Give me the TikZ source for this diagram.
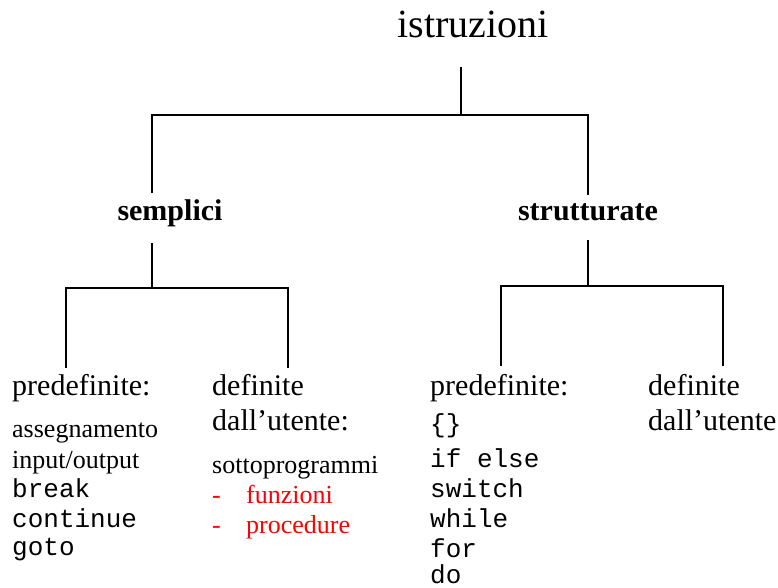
\documentclass[tikz,border=0pt]{standalone}
\usepackage{fontspec}
\setmainfont{Liberation Serif}
\setmonofont{Liberation Mono}
\begin{document}
\begin{tikzpicture}[x=1pt,y=-1pt,
  txt/.style={inner sep=0pt,anchor=base west},
  head/.style={txt,font=\fontsize{30}{36}\selectfont},
  item/.style={txt,font=\fontsize{26}{30}\selectfont},
  code/.style={txt,font=\fontsize{26}{30}\selectfont\ttfamily},
  redit/.style={item,text=red},
  branch/.style={line width=2.6pt}]
\useasboundingbox[fill=white] (0,0) rectangle (778,588);
% top
\node[txt,anchor=base,font=\fontsize{40}{48}\selectfont] (istr) at (473,38) {istruzioni};
\node[txt,anchor=base,font=\fontsize{30}{36}\selectfont\bfseries] (sem) at (170,220) {semplici};
\node[txt,anchor=base,font=\fontsize{30}{36}\selectfont\bfseries] (str) at (588,220) {strutturate};
% left column
\node[head] (sp) at (12,395) {predefinite:};
\node[item] (s1) at (12,437) {assegnamento};
\node[item] (s2) at (12,468) {input/output};
\node[code] (s3) at (12,497) {break};
\node[code] (s4) at (12,527) {continue};
\node[code] (s5) at (12,555) {goto};
\node[head] (sd) at (212,395) {definite};
\node[head] (sd2) at (212,430) {dall’utente:};
\node[item] (u1) at (212,473) {sottoprogrammi};
\node[redit] (d1) at (212,503) {-};
\node[redit] (u2) at (246,503) {funzioni};
\node[redit] (d2) at (212,533) {-};
\node[redit] (u3) at (246,533) {procedure};
% right column
\node[head] (tp) at (430,395) {predefinite:};
\node[code] (t1) at (430,432) {\{\}};
\node[code] (t2) at (430,467) {if else};
\node[code] (t3) at (430,497) {switch};
\node[code] (t4) at (430,527) {while};
\node[code] (t5) at (430,557) {for};
\node[code] (t6) at (430,583) {do};
\node[head] (td) at (648,395) {definite};
\node[head] (td2) at (648,430) {dall’utente};
% junction coordinates
\coordinate (r0) at (461,67);
\coordinate (r1) at (461,115);
\coordinate (a0) at (152,193);
\coordinate (a1) at (152,115);
\coordinate (b1) at (588,115);
\coordinate (b0) at (588,195);
\coordinate (sa) at (152,243);
\coordinate (sb) at (152,288);
\coordinate (sl0) at (66,368);
\coordinate (sl1) at (66,288);
\coordinate (sr1) at (288,288);
\coordinate (sr0) at (288,368);
\coordinate (ta) at (588,240);
\coordinate (tb) at (588,286);
\coordinate (tl0) at (501,366);
\coordinate (tl1) at (501,286);
\coordinate (tr1) at (723,286);
\coordinate (tr0) at (723,366);
% connectors
\draw[branch] (r0) -- (r1);
\draw[branch] (a0) -- (a1) -- (b1) -- (b0);
\draw[branch] (sa) -- (sb);
\draw[branch] (sl0) -- (sl1) -- (sr1) -- (sr0);
\draw[branch] (ta) -- (tb);
\draw[branch] (tl0) -- (tl1) -- (tr1) -- (tr0);
\end{tikzpicture}
\end{document}
